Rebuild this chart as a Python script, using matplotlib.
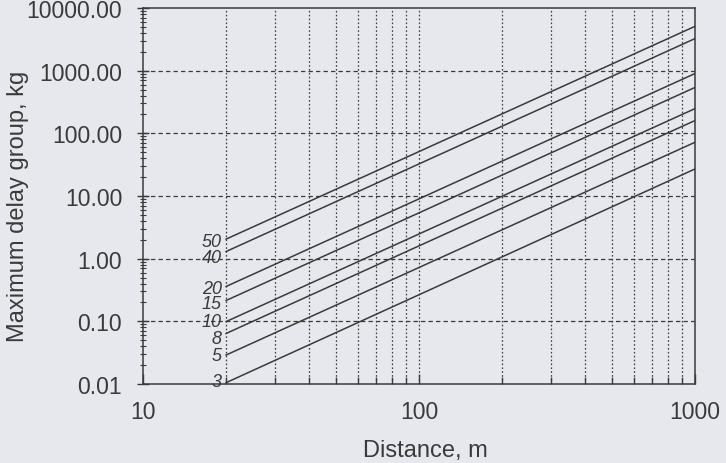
import matplotlib
matplotlib.use('Agg')
import matplotlib.pyplot as plt
from matplotlib.ticker import FixedLocator, NullFormatter, FixedFormatter

# line labels and the charge read at the two ends of each straight line
labels = ['50', '40', '20', '15', '10', '8', '5', '3']
dist_start = 20
dist_end = 1000
charge_start = [2.05, 1.3, 0.36, 0.215, 0.099, 0.064, 0.029, 0.0105]
charge_end = [5100, 3250, 900, 540, 248, 160, 72, 27]

y_ticks = [0.01, 0.1, 1, 10, 100, 1000, 10000]
y_ticklabels = ['0.01', '0.10', '1.00', '10.00', '100.00', '1000.00', '10000.00']
x_ticks = [10, 100, 1000]
x_ticklabels = ['10', '100', '1000']

# small vertical nudges (points) so the labels sit like in the original
label_nudge = [-1.5, -4.5, -1.5, -2.5, 0, -3.5, 0, 0.5]

paper = '#e7e8ed'
ink = '#3a3a3a'

plt.rcParams['font.family'] = ['Liberation Sans', 'DejaVu Sans']

fig = plt.figure(figsize=(7.26, 4.64), dpi=100, facecolor=paper)
ax = fig.add_axes([143/726, 1-385/464, (695-143)/726, (385-9)/464])
ax.set_facecolor(paper)
ax.set_xscale('log')
ax.set_yscale('log')
ax.set_xlim(10, 1000)
ax.set_ylim(0.01, 10000)

for lab, q0, q1, dy in zip(labels, charge_start, charge_end, label_nudge):
    ax.plot([dist_start, dist_end], [q0, q1], color=ink, lw=1.1, zorder=3)
    ax.annotate(lab, (19.3, q0), xytext=(0, dy), textcoords='offset points',
                ha='right', va='center', fontsize=13, style='italic', color=ink)

# grids: dotted verticals at every minor/major x, dashed horizontals at decades
x_grid = [v * d for d in (10, 100) for v in range(2, 10)] + [100]
for xv in x_grid:
    ax.axvline(xv, color=ink, lw=0.9, ls=(0, (1.3, 1.8)), zorder=1)
for yv in y_ticks[1:-1]:
    ax.axhline(yv, color=ink, lw=0.9, ls=(0, (3.5, 2.5)), zorder=1)

ax.xaxis.set_major_locator(FixedLocator(x_ticks))
ax.xaxis.set_major_formatter(FixedFormatter(x_ticklabels))
ax.xaxis.set_minor_locator(FixedLocator(x_grid))
ax.xaxis.set_minor_formatter(NullFormatter())
ax.yaxis.set_major_locator(FixedLocator(y_ticks))
ax.yaxis.set_major_formatter(FixedFormatter(y_ticklabels))
minor_y = [v * d for d in (0.01, 0.1, 1, 10, 100, 1000) for v in range(2, 10)]
ax.yaxis.set_minor_locator(FixedLocator(minor_y))
ax.yaxis.set_minor_formatter(NullFormatter())

ax.tick_params(axis='x', which='major', direction='in', length=7, width=1,
               colors=ink, labelsize=16.5, pad=11.5, top=False)
ax.tick_params(axis='x', which='minor', direction='in', length=5, width=1,
               colors=ink, top=False)
ax.tick_params(axis='y', which='major', direction='inout', length=9, width=1,
               colors=ink, labelsize=16.5, pad=10.5, right=False)
ax.tick_params(axis='y', which='minor', direction='inout', length=5, width=0.8,
               colors=ink, right=False)

for s in ax.spines.values():
    s.set_color(ink)
    s.set_linewidth(1.1)

ax.set_xlabel('Distance, m', fontsize=17, color=ink)
ax.xaxis.label.set_va('baseline')
ax.xaxis.set_label_coords(0.511, -0.191)
ax.set_ylabel('Maximum delay group, kg', fontsize=17, color=ink)
ax.yaxis.set_label_coords(-0.207, 0.476)

fig.savefig('out.png', dpi=100, facecolor=paper)
